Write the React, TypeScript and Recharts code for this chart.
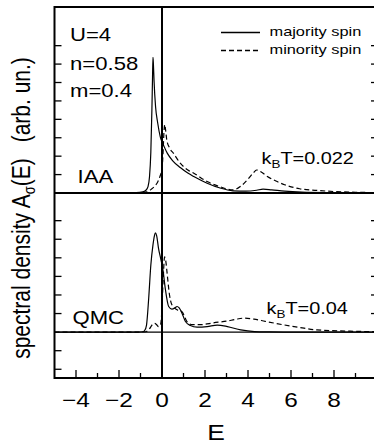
import { LineChart, Line, XAxis, YAxis, ReferenceLine } from "recharts";

const FONT = "'Liberation Sans', Arial, Helvetica, sans-serif";

// IAA panel (kBT = 0.022)
const iaaMajE = [-5, -2, -1.2, -0.9, -0.75, -0.65, -0.58, -0.52, -0.47, -0.44, -0.42, -0.4, -0.37, -0.3, -0.2, -0.08, 0.07, 0.25, 0.5, 0.85, 1.2, 1.5, 2.1, 2.7, 3.3, 3.9, 4.4, 4.7, 5.1, 5.7, 6.5, 8, 10];
const iaaMaj = [0, 0, 0.02, 0.06, 0.15, 0.35, 0.9, 2.2, 4.5, 6.3, 7.37, 7.0, 6.1, 4.7, 3.8, 3.05, 2.6, 2.15, 1.75, 1.38, 1.08, 0.88, 0.53, 0.27, 0.12, 0.1, 0.15, 0.21, 0.17, 0.1, 0.05, 0.02, 0];
const iaaMinE = [-5, -1.5, -1.0, -0.7, -0.5, -0.35, -0.2, -0.08, 0, 0.05, 0.09, 0.13, 0.17, 0.22, 0.35, 0.53, 0.85, 1.2, 1.5, 2.1, 2.7, 3.3, 3.7, 4.0, 4.25, 4.4, 4.6, 4.9, 5.3, 5.7, 6.4, 7.2, 8, 9, 10];
const iaaMin = [0, 0, 0.02, 0.06, 0.2, 0.36, 0.6, 0.95, 1.3, 2.2, 3.3, 3.72, 3.4, 2.9, 2.45, 2.16, 1.62, 1.25, 1.06, 0.62, 0.34, 0.17, 0.4, 0.75, 1.1, 1.25, 1.15, 0.9, 0.65, 0.45, 0.23, 0.14, 0.08, 0.04, 0.02];

// QMC panel (kBT = 0.04)
const qmcMajE = [-5, -1.2, -0.9, -0.8, -0.72, -0.62, -0.52, -0.42, -0.35, -0.31, -0.25, -0.16, -0.05, 0.05, 0.15, 0.31, 0.46, 0.6, 0.7, 0.8, 0.93, 1.09, 1.32, 1.63, 2.1, 2.57, 3.04, 3.66, 4.3, 5, 6, 10];
const qmcMaj = [0, 0, 0.02, 0.1, 0.38, 1.8, 3.6, 4.7, 5.2, 5.35, 5.2, 4.5, 3.9, 3.3, 2.37, 1.38, 1.24, 1.3, 1.38, 1.3, 1.02, 0.57, 0.36, 0.27, 0.3, 0.38, 0.3, 0.12, 0.03, 0.01, 0, 0];
const qmcMinE = [-5, -1.2, -0.75, -0.6, -0.45, -0.35, -0.25, -0.16, -0.08, -0.02, 0.05, 0.12, 0.18, 0.23, 0.35, 0.46, 0.7, 0.93, 1.16, 1.4, 1.78, 2.4, 3.04, 3.4, 3.8, 4.28, 4.8, 5.66, 6.4, 7.2, 8.75, 10];
const qmcMin = [0, 0, 0.02, 0.15, 0.4, 0.48, 0.4, 0.3, 0.35, 0.9, 2.7, 4.05, 3.8, 3.26, 2.0, 1.47, 1.2, 1.1, 0.57, 0.4, 0.4, 0.5, 0.6, 0.68, 0.75, 0.7, 0.58, 0.39, 0.25, 0.12, 0.05, 0.02];

const xTicks = [-4, -3, -2, -1, 0, 1, 2, 3, 4, 5, 6, 7, 8, 9];
const iaaTicks = [1, 2, 3, 4, 5, 6, 7, 8];
const qmcTicks = [-2, -1, 1, 2, 3, 4, 5, 6];
const qmcRightTicks = [1, 2, 3, 4, 5, 6];

const zip = (es: number[], vs: number[]) => es.map((e, i) => ({ e, v: vs[i] }));

const SText = ({ x, y, size, sx = 1.25, anchor = "start", children }: any) => (
  <g transform={`translate(${x},${y}) scale(${sx},1)`}>
    <text x={0} y={0} fontSize={size} fontFamily={FONT} textAnchor={anchor} fill="#000">
      {children}
    </text>
  </g>
);

const LeftTick = ({ x, y }: any) => <line x1={x} x2={x + 7} y1={y} y2={y} stroke="#000" strokeWidth={1.3} />;
const RightTick = ({ x, y }: any) => <line x1={x - 6} x2={x} y1={y} y2={y} stroke="#000" strokeWidth={1.3} />;

const BottomTick = ({ x, y, payload }: any) => {
  const v = payload.value;
  const major = v % 2 === 0;
  return (
    <g>
      <line x1={x} x2={x} y1={y} y2={y - (major ? 8 : 5)} stroke="#000" strokeWidth={1.3} />
      {major && (
        <SText x={x} y={y + 29} size={20} sx={1.22} anchor="middle">
          {v < 0 ? `\u2212${-v}` : `${v}`}
        </SText>
      )}
    </g>
  );
};

const App = () => {
  return (
    <div style={{ position: "absolute", left: 0, top: 0, width: 374, height: 445, overflow: "hidden", background: "#fff" }}>
      <LineChart width={397} height={193} margin={{ top: 7, right: 0, bottom: 0, left: 0 }} style={{ position: "absolute", left: 0, top: 0 }}>
        <XAxis type="number" dataKey="e" domain={[-5, 10]} allowDataOverflow hide />
        <YAxis yAxisId="l" type="number" domain={[0, 10.1]} ticks={iaaTicks} interval={0} width={54.5} axisLine={false} tickLine={false} tickSize={0} tickMargin={0} tick={<LeftTick />} allowDataOverflow />
        <YAxis yAxisId="r" orientation="right" type="number" domain={[0, 10.1]} ticks={iaaTicks} interval={0} width={20} axisLine={false} tickLine={false} tickSize={0} tickMargin={0} tick={<RightTick />} allowDataOverflow />
        <ReferenceLine yAxisId="l" x={0} stroke="#000" strokeWidth={2} />
        <Line yAxisId="l" data={zip(iaaMinE, iaaMin)} dataKey="v" type="monotone" stroke="#000" strokeWidth={1.2} strokeDasharray="5 3" dot={false} isAnimationActive={false} />
        <Line yAxisId="l" data={zip(iaaMajE, iaaMaj)} dataKey="v" type="monotone" stroke="#000" strokeWidth={1.2} dot={false} isAnimationActive={false} />
      </LineChart>

      <LineChart width={397} height={252} margin={{ top: 0, right: 0, bottom: 0, left: 0 }} style={{ position: "absolute", left: 0, top: 193 }}>
        <XAxis type="number" dataKey="e" domain={[-5, 10]} ticks={xTicks} interval={0} height={67} axisLine={false} tickLine={false} tickSize={0} tickMargin={0} tick={<BottomTick />} allowDataOverflow />
        <YAxis yAxisId="l" type="number" domain={[-2.47, 7.49]} ticks={qmcTicks} interval={0} width={54.5} axisLine={false} tickLine={false} tickSize={0} tickMargin={0} tick={<LeftTick />} allowDataOverflow />
        <YAxis yAxisId="r" orientation="right" type="number" domain={[-2.47, 7.49]} ticks={qmcRightTicks} interval={0} width={20} axisLine={false} tickLine={false} tickSize={0} tickMargin={0} tick={<RightTick />} allowDataOverflow />
        <ReferenceLine yAxisId="l" y={0} stroke="#000" strokeWidth={1.3} />
        <ReferenceLine yAxisId="l" x={0} stroke="#000" strokeWidth={2} />
        <Line yAxisId="l" data={zip(qmcMinE, qmcMin)} dataKey="v" type="monotone" stroke="#000" strokeWidth={1.2} strokeDasharray="5 3" dot={false} isAnimationActive={false} />
        <Line yAxisId="l" data={zip(qmcMajE, qmcMaj)} dataKey="v" type="monotone" stroke="#000" strokeWidth={1.2} dot={false} isAnimationActive={false} />
      </LineChart>

      <svg width={374} height={445} style={{ position: "absolute", left: 0, top: 0, pointerEvents: "none" }}>
        <rect x={54.5} y={7} width={322.5} height={371} fill="none" stroke="#000" strokeWidth={2} />
        <line x1={54.5} x2={377} y1={193} y2={193} stroke="#000" strokeWidth={2} />

        <SText x={70} y={41} size={17.7}>U=4</SText>
        <SText x={70} y={70} size={17.7}>n=0.58</SText>
        <SText x={70} y={96.5} size={17.7}>m=0.4</SText>
        <SText x={77.5} y={182.5} size={17.7}>IAA</SText>
        <SText x={72.5} y={323.5} size={17.7}>QMC</SText>

        <SText x={261.5} y={163.5} size={16.3} sx={1.22}>
          k<tspan fontSize={11} dy={4}>B</tspan><tspan dy={-4}>T=0.022</tspan>
        </SText>
        <SText x={266.5} y={313.5} size={16.3} sx={1.22}>
          k<tspan fontSize={11} dy={4}>B</tspan><tspan dy={-4}>T=0.04</tspan>
        </SText>

        <line x1={221} x2={260} y1={32.5} y2={32.5} stroke="#000" strokeWidth={1.3} />
        <line x1={221} x2={260} y1={50.5} y2={50.5} stroke="#000" strokeWidth={1.3} strokeDasharray="5 3" />
        <SText x={269.5} y={36} size={13} sx={1.26}>majority spin</SText>
        <SText x={269.5} y={54} size={13} sx={1.26}>minority spin</SText>

        <g transform="translate(30,208) rotate(-90) scale(1,1.2)">
          <text x={0} y={0} fontSize={21} fontFamily={FONT} textAnchor="middle" fill="#000">
            spectral density A<tspan fontSize={13} dy={4}>σ</tspan><tspan dy={-4}>(E)</tspan><tspan dx={16}>(arb. un.)</tspan>
          </text>
        </g>

        <SText x={216} y={439.5} size={22} sx={1.2} anchor="middle">E</SText>
      </svg>
    </div>
  );
};

export default App;
